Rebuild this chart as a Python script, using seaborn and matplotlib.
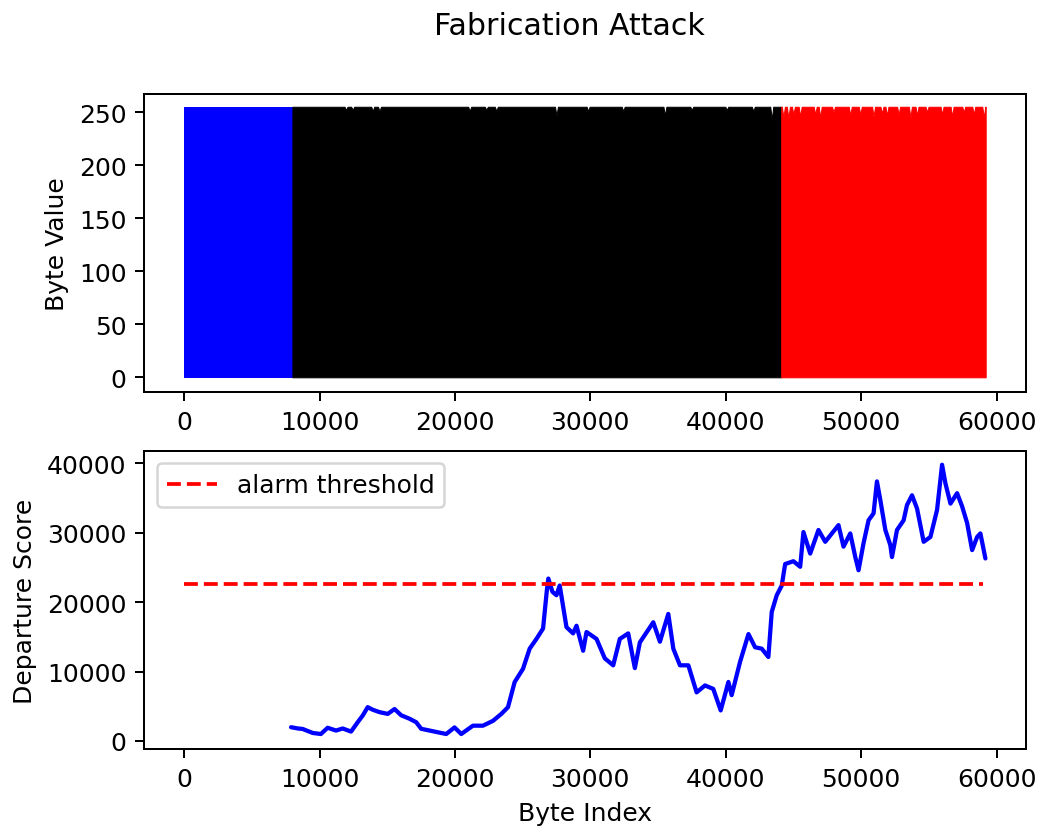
import numpy as np
import pandas as pd
import matplotlib
matplotlib.use("Agg")
import matplotlib.pyplot as plt
import seaborn as sns

# --- byte stream segments: (start, end, colour) ---
segment_starts = [0, 8000, 44100]
segment_ends = [8000, 44100, 59200]
segment_colors = ["blue", "black", "red"]
byte_max = 255

# notches in the upper edge of the byte trace (index, local max value)
notch_index = [11960, 12450, 13930, 14430, 21090, 22320, 23060, 27500, 29840,
               32430, 35510, 37490, 40080, 42040, 43400,
               44260, 44630, 45000, 45500, 46610, 46980, 47960, 49200, 49940,
               50920, 51540, 51910, 52770, 53640, 54130, 54870, 55980, 56720,
               57580, 58320, 59060]
notch_value = [252, 252, 251, 251, 251, 252, 251, 247, 251,
               251, 247, 252, 252, 251, 243,
               245, 244, 248, 246, 248, 245, 250, 247, 248,
               246, 249, 247, 248, 245, 247, 250, 248, 246,
               250, 248, 245]

# --- departure score ---
score_index = [7900, 8400, 8750, 9500, 10100, 10600, 11220, 11710, 12330, 12820,
               13190, 13560, 13930, 14430, 15040, 15540, 16030, 16650, 17140, 17510,
               18130, 18740, 19360, 19970, 20470, 21330, 22070, 22810, 23430, 23920,
               24410, 25030, 25520, 26020, 26510, 26800, 26900, 27200, 27500, 27740,
               28240, 28730, 28980, 29470, 29720, 30460, 31070, 31690, 32180, 32800,
               33290, 33660, 34650, 35140, 35760, 36130, 36620, 37240, 37850, 38470,
               39080, 39630, 40200, 40440, 41060, 41680, 42170, 42660, 43150, 43400,
               43770, 44140, 44390, 45000, 45500, 45740, 46240, 46850, 47350, 47840,
               48330, 48700, 49200, 49570, 49810, 50180, 50550, 50920, 51170, 51420,
               51790, 52160, 52280, 52650, 53140, 53390, 53760, 54130, 54620, 55120,
               55610, 55980, 56230, 56600, 57090, 57460, 57830, 58200, 58570, 58810,
               59180]
score_value = [1980, 1800, 1730, 1150, 1000, 1900, 1500, 1800, 1350, 2700,
               3660, 4870, 4500, 4150, 3900, 4600, 3700, 3200, 2700, 1750,
               1500, 1250, 1000, 1950, 1000, 2200, 2200, 2900, 3900, 4870,
               8480, 10400, 13300, 14700, 16200, 21900, 23400, 21500, 21000, 22400,
               16400, 15500, 16600, 13000, 15700, 14700, 11900, 10900, 14700, 15500,
               10500, 14200, 17100, 14300, 18300, 13300, 10900, 10900, 7000, 8000,
               7500, 4400, 8500, 6600, 11400, 15400, 13500, 13300, 12100, 18600,
               21000, 22400, 25500, 25900, 25100, 30100, 27000, 30400, 28700, 29900,
               31100, 28000, 29900, 26500, 24600, 28500, 31800, 32800, 37400, 34700,
               30400, 28200, 26500, 30400, 31800, 34000, 35400, 33500, 28700, 29400,
               33300, 39800, 37100, 34200, 35700, 33800, 31400, 27500, 29400, 29900,
               26300]

threshold_value = 22650
threshold_index = [0, 59000]

# --- figure ---
sns.set_style("ticks", {"axes.edgecolor": "black", "xtick.color": "black",
                        "ytick.color": "black", "axes.labelcolor": "black",
                        "text.color": "black"})
plt.rcParams["font.family"] = ["DejaVu Sans"]

DPI = 180
fig, (ax1, ax2) = plt.subplots(2, 1, figsize=(1040 / DPI, 827 / DPI), dpi=DPI)
fig.subplots_adjust(left=0.1385, right=0.9863, top=0.8851, bottom=0.0931, hspace=0.197)

# top: byte trace drawn as its upper envelope per segment
half_w = 110
for start, end, color in zip(segment_starts, segment_ends, segment_colors):
    xs = [start]
    ys = [byte_max]
    for nx, nv in zip(notch_index, notch_value):
        if start < nx - half_w and nx + half_w < end:
            xs += [nx - half_w, nx, nx + half_w]
            ys += [byte_max, nv, byte_max]
    xs.append(end)
    ys.append(byte_max)
    ax1.fill_between(xs, 0, ys, facecolor=color, edgecolor=color, linewidth=0.4)
ax1.set_ylabel("Byte Value", fontsize=10)
ax1.set_yticks([0, 50, 100, 150, 200, 250])
ax1.tick_params(labelsize=10)

# bottom: departure score and alarm threshold
score_df = pd.DataFrame({"Byte Index": score_index, "Departure Score": score_value})
thr_df = pd.DataFrame({"Byte Index": threshold_index,
                       "Departure Score": [threshold_value] * len(threshold_index)})
sns.lineplot(data=score_df, x="Byte Index", y="Departure Score", ax=ax2,
             color="blue", linewidth=1.7)
sns.lineplot(data=thr_df, x="Byte Index", y="Departure Score", ax=ax2,
             color="red", linestyle="--", linewidth=1.5, label="alarm threshold")
ax2.set_xlabel("Byte Index", fontsize=10)
ax2.set_ylabel("Departure Score", fontsize=10)
ax2.set_yticks([0, 10000, 20000, 30000, 40000])
ax2.tick_params(labelsize=10)
ax2.legend(loc="upper left", fontsize=10)

for ax in (ax1, ax2):
    ax.set_xlim(-2960, 62160)
    ax.set_xticks([0, 10000, 20000, 30000, 40000, 50000, 60000])
    for s in ax.spines.values():
        s.set_visible(True)
        s.set_linewidth(0.8)
ax1.set_ylim(-14, 267)
ax2.set_ylim(-1160, 41800)

fig.suptitle("Fabrication Attack", fontsize=12, x=0.548, y=0.985)

fig.savefig("out.png", dpi=DPI)
